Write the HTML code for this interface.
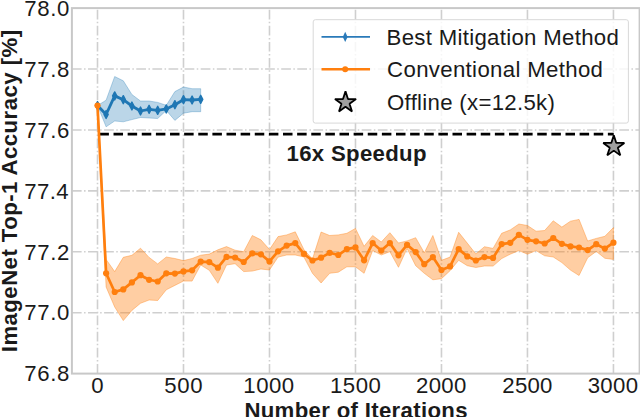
<!DOCTYPE html>
<html><head><meta charset="utf-8"><style>
html,body{margin:0;padding:0;background:#fff;overflow:hidden;}
svg{display:block;}
</style></head><body>
<svg width="640" height="417" viewBox="0 0 640 417">
<rect width="640" height="417" fill="#fff"/>
<g stroke="#cfcfcf" stroke-width="1.6" stroke-dasharray="9.72 2.43 1.52 2.43" fill="none"><line x1="71.90" y1="69.02" x2="639.60" y2="69.02"/><line x1="71.90" y1="129.93" x2="639.60" y2="129.93"/><line x1="71.90" y1="190.85" x2="639.60" y2="190.85"/><line x1="71.90" y1="251.77" x2="639.60" y2="251.77"/><line x1="71.90" y1="312.68" x2="639.60" y2="312.68"/><line x1="97.50" y1="373.60" x2="97.50" y2="8.10"/><line x1="183.49" y1="373.60" x2="183.49" y2="8.10"/><line x1="269.48" y1="373.60" x2="269.48" y2="8.10"/><line x1="355.48" y1="373.60" x2="355.48" y2="8.10"/><line x1="441.47" y1="373.60" x2="441.47" y2="8.10"/><line x1="527.46" y1="373.60" x2="527.46" y2="8.10"/><line x1="613.45" y1="373.60" x2="613.45" y2="8.10"/></g>
<polygon points="97.50,105.50 106.10,100.20 114.70,76.50 123.30,80.80 131.90,94.50 140.50,101.00 149.09,101.00 157.69,102.40 166.29,105.30 174.89,91.60 183.49,87.00 192.09,88.70 200.69,88.70 200.69,111.70 192.09,111.70 183.49,113.20 174.89,120.40 166.29,110.50 157.69,118.50 149.09,118.00 140.50,117.50 131.90,119.60 123.30,121.80 114.70,121.00 106.10,126.80 97.50,105.50" fill="#1f77b4" fill-opacity="0.3" stroke="#1f77b4" stroke-opacity="0.3" stroke-width="1"/>
<polygon points="97.50,105.60 106.10,259.40 114.70,271.60 123.30,257.30 131.90,255.30 140.50,248.20 149.09,257.40 157.69,263.90 166.29,257.00 174.89,258.50 183.49,260.60 192.09,258.50 200.69,255.20 209.29,254.10 217.89,249.80 226.49,246.60 235.09,250.20 243.69,251.70 252.29,235.50 260.88,239.80 269.48,249.50 278.08,236.60 286.68,234.90 295.28,231.80 303.88,249.50 312.48,259.00 321.08,232.00 329.68,235.50 338.28,234.90 346.88,233.30 355.48,228.40 364.07,246.30 372.67,235.50 381.27,242.00 389.87,232.70 398.47,243.00 407.07,240.90 415.67,237.70 424.27,252.80 432.87,235.50 441.47,260.30 450.07,257.10 458.67,232.30 467.26,243.10 475.86,254.00 484.46,246.70 493.06,248.40 501.66,233.30 510.26,229.90 518.86,224.00 527.46,225.50 536.06,231.20 544.66,230.50 553.26,220.80 561.86,227.10 570.45,221.20 579.05,219.40 587.65,241.00 596.25,238.40 604.85,236.30 613.45,227.60 613.45,259.40 604.85,258.30 596.25,251.40 587.65,257.80 579.05,275.50 570.45,270.10 561.86,262.60 553.26,257.00 544.66,255.80 536.06,250.60 527.46,254.20 518.86,250.60 510.26,254.20 501.66,258.60 493.06,266.10 484.46,266.00 475.86,267.50 467.26,265.70 458.67,260.30 450.07,270.70 441.47,278.70 432.87,279.80 424.27,273.30 415.67,265.70 407.07,248.50 398.47,267.30 389.87,251.70 381.27,255.00 372.67,250.60 364.07,273.30 355.48,266.80 346.88,266.80 338.28,272.20 329.68,273.30 321.08,283.00 312.48,273.30 303.88,257.00 295.28,255.00 286.68,255.00 278.08,257.10 269.48,270.00 260.88,269.00 252.29,271.10 243.69,271.60 235.09,263.70 226.49,265.00 217.89,283.30 209.29,270.30 200.69,265.00 192.09,281.10 183.49,281.10 174.89,285.40 166.29,289.80 157.69,300.50 149.09,300.00 140.50,303.30 131.90,310.40 123.30,320.60 114.70,307.00 106.10,287.00 97.50,105.60" fill="#ff7f0e" fill-opacity="0.38" stroke="#ff7f0e" stroke-opacity="0.38" stroke-width="1"/>
<line x1="99.4" y1="134.2" x2="613.75" y2="134.2" stroke="#000" stroke-width="2.8" stroke-dasharray="9.5 4.624"/>
<polyline points="97.50,105.50 106.10,114.50 114.70,95.90 123.30,99.70 131.90,106.00 140.50,111.00 149.09,109.30 157.69,110.30 166.29,108.90 174.89,104.70 183.49,99.70 192.09,100.00 200.69,99.30" fill="none" stroke="#1f77b4" stroke-width="2.8" stroke-linejoin="round"/>
<path d="M97.50 101.50L99.60 105.50L97.50 109.50L95.40 105.50ZM106.10 110.50L108.20 114.50L106.10 118.50L104.00 114.50ZM114.70 91.90L116.80 95.90L114.70 99.90L112.60 95.90ZM123.30 95.70L125.40 99.70L123.30 103.70L121.20 99.70ZM131.90 102.00L134.00 106.00L131.90 110.00L129.80 106.00ZM140.50 107.00L142.60 111.00L140.50 115.00L138.40 111.00ZM149.09 105.30L151.19 109.30L149.09 113.30L147.00 109.30ZM157.69 106.30L159.79 110.30L157.69 114.30L155.59 110.30ZM166.29 104.90L168.39 108.90L166.29 112.90L164.19 108.90ZM174.89 100.70L176.99 104.70L174.89 108.70L172.79 104.70ZM183.49 95.70L185.59 99.70L183.49 103.70L181.39 99.70ZM192.09 96.00L194.19 100.00L192.09 104.00L189.99 100.00ZM200.69 95.30L202.79 99.30L200.69 103.30L198.59 99.30Z" fill="#1f77b4" stroke="#1f77b4" stroke-width="1.4" stroke-linejoin="round"/>
<polyline points="97.50,105.60 106.10,273.30 114.70,292.00 123.30,289.40 131.90,282.40 140.50,275.20 149.09,279.80 157.69,281.50 166.29,273.30 174.89,273.60 183.49,271.40 192.09,270.30 200.69,261.70 209.29,262.10 217.89,267.70 226.49,256.90 235.09,257.50 243.69,262.00 252.29,253.40 260.88,254.30 269.48,261.40 278.08,251.30 286.68,245.60 295.28,243.10 303.88,253.90 312.48,260.50 321.08,257.70 329.68,252.80 338.28,255.00 346.88,249.10 355.48,247.40 364.07,260.30 372.67,243.10 381.27,250.60 389.87,243.10 398.47,255.30 407.07,244.80 415.67,252.10 424.27,264.20 432.87,257.10 441.47,270.00 450.07,266.40 458.67,249.10 467.26,256.40 475.86,260.50 484.46,257.10 493.06,257.90 501.66,244.10 510.26,242.80 518.86,234.80 527.46,239.80 536.06,241.30 544.66,243.50 553.26,238.00 561.86,243.80 570.45,246.40 579.05,247.50 587.65,250.10 596.25,244.20 604.85,248.60 613.45,242.70" fill="none" stroke="#ff7f0e" stroke-width="2.7" stroke-linejoin="round"/>
<g fill="#ff7f0e"><circle cx="97.50" cy="105.60" r="3.1"/><circle cx="106.10" cy="273.30" r="3.1"/><circle cx="114.70" cy="292.00" r="3.1"/><circle cx="123.30" cy="289.40" r="3.1"/><circle cx="131.90" cy="282.40" r="3.1"/><circle cx="140.50" cy="275.20" r="3.1"/><circle cx="149.09" cy="279.80" r="3.1"/><circle cx="157.69" cy="281.50" r="3.1"/><circle cx="166.29" cy="273.30" r="3.1"/><circle cx="174.89" cy="273.60" r="3.1"/><circle cx="183.49" cy="271.40" r="3.1"/><circle cx="192.09" cy="270.30" r="3.1"/><circle cx="200.69" cy="261.70" r="3.1"/><circle cx="209.29" cy="262.10" r="3.1"/><circle cx="217.89" cy="267.70" r="3.1"/><circle cx="226.49" cy="256.90" r="3.1"/><circle cx="235.09" cy="257.50" r="3.1"/><circle cx="243.69" cy="262.00" r="3.1"/><circle cx="252.29" cy="253.40" r="3.1"/><circle cx="260.88" cy="254.30" r="3.1"/><circle cx="269.48" cy="261.40" r="3.1"/><circle cx="278.08" cy="251.30" r="3.1"/><circle cx="286.68" cy="245.60" r="3.1"/><circle cx="295.28" cy="243.10" r="3.1"/><circle cx="303.88" cy="253.90" r="3.1"/><circle cx="312.48" cy="260.50" r="3.1"/><circle cx="321.08" cy="257.70" r="3.1"/><circle cx="329.68" cy="252.80" r="3.1"/><circle cx="338.28" cy="255.00" r="3.1"/><circle cx="346.88" cy="249.10" r="3.1"/><circle cx="355.48" cy="247.40" r="3.1"/><circle cx="364.07" cy="260.30" r="3.1"/><circle cx="372.67" cy="243.10" r="3.1"/><circle cx="381.27" cy="250.60" r="3.1"/><circle cx="389.87" cy="243.10" r="3.1"/><circle cx="398.47" cy="255.30" r="3.1"/><circle cx="407.07" cy="244.80" r="3.1"/><circle cx="415.67" cy="252.10" r="3.1"/><circle cx="424.27" cy="264.20" r="3.1"/><circle cx="432.87" cy="257.10" r="3.1"/><circle cx="441.47" cy="270.00" r="3.1"/><circle cx="450.07" cy="266.40" r="3.1"/><circle cx="458.67" cy="249.10" r="3.1"/><circle cx="467.26" cy="256.40" r="3.1"/><circle cx="475.86" cy="260.50" r="3.1"/><circle cx="484.46" cy="257.10" r="3.1"/><circle cx="493.06" cy="257.90" r="3.1"/><circle cx="501.66" cy="244.10" r="3.1"/><circle cx="510.26" cy="242.80" r="3.1"/><circle cx="518.86" cy="234.80" r="3.1"/><circle cx="527.46" cy="239.80" r="3.1"/><circle cx="536.06" cy="241.30" r="3.1"/><circle cx="544.66" cy="243.50" r="3.1"/><circle cx="553.26" cy="238.00" r="3.1"/><circle cx="561.86" cy="243.80" r="3.1"/><circle cx="570.45" cy="246.40" r="3.1"/><circle cx="579.05" cy="247.50" r="3.1"/><circle cx="587.65" cy="250.10" r="3.1"/><circle cx="596.25" cy="244.20" r="3.1"/><circle cx="604.85" cy="248.60" r="3.1"/><circle cx="613.45" cy="242.70" r="3.1"/></g>
<polygon points="613.80,135.30 616.29,142.97 624.36,142.97 617.83,147.71 620.32,155.38 613.80,150.64 607.28,155.38 609.77,147.71 603.24,142.97 611.31,142.97" fill="#a0a0a0" stroke="#000" stroke-width="1.8" stroke-linejoin="bevel"/>
<rect x="71.90" y="8.10" width="567.70" height="365.50" fill="none" stroke="#c8c8c8" stroke-width="2"/>
<rect x="313.2" y="19.7" width="315.2" height="103.4" rx="2.2" ry="2.2" fill="#fff" fill-opacity="0.8" stroke="#d8d8d8" stroke-width="1"/>
<line x1="321.5" y1="36.9" x2="370" y2="36.9" stroke="#2a7ab9" stroke-width="1.8"/>
<path d="M345.2 31.7L347.6 36.9L345.2 42.1L342.8 36.9Z" fill="#2a7ab9"/>
<line x1="321.5" y1="69.3" x2="370" y2="69.3" stroke="#ff7f0e" stroke-width="2.6"/>
<circle cx="345.2" cy="69.3" r="3" fill="#ff7f0e"/>
<polygon points="345.50,91.40 347.99,99.07 356.06,99.07 349.53,103.81 352.02,111.48 345.50,106.74 338.98,111.48 341.47,103.81 334.94,99.07 343.01,99.07" fill="#a0a0a0" stroke="#000" stroke-width="1.8" stroke-linejoin="bevel"/>
<text id="legend1" x="386.600" y="44.750" font-family='"Liberation Sans", sans-serif' font-size="22.2" font-weight="normal" letter-spacing="0.309" fill="#1a1a1a">Best Mitigation Method</text>
<text id="legend2" x="387.100" y="77.200" font-family='"Liberation Sans", sans-serif' font-size="22.2" font-weight="normal" letter-spacing="0.340" fill="#1a1a1a">Conventional Method</text>
<text id="legend3" x="387.000" y="110.100" font-family='"Liberation Sans", sans-serif' font-size="22.2" font-weight="normal" letter-spacing="0.306" fill="#1a1a1a">Offline (x=12.5k)</text>
<text id="speedup" x="286.500" y="160.600" font-family='"Liberation Sans", sans-serif' font-size="22.2" font-weight="bold" letter-spacing="0.308" fill="#1a1a1a">16x Speedup</text>
<text id="yt78.0" x="24.200" y="15.900" font-family='"Liberation Sans", sans-serif' font-size="22.2" font-weight="normal" letter-spacing="0.653" fill="#1a1a1a">78.0</text>
<text id="yt77.8" x="24.200" y="76.817" font-family='"Liberation Sans", sans-serif' font-size="22.2" font-weight="normal" letter-spacing="0.654" fill="#1a1a1a">77.8</text>
<text id="yt77.6" x="24.200" y="137.733" font-family='"Liberation Sans", sans-serif' font-size="22.2" font-weight="normal" letter-spacing="0.654" fill="#1a1a1a">77.6</text>
<text id="yt77.4" x="24.200" y="198.650" font-family='"Liberation Sans", sans-serif' font-size="22.2" font-weight="normal" letter-spacing="0.421" fill="#1a1a1a">77.4</text>
<text id="yt77.2" x="24.200" y="259.567" font-family='"Liberation Sans", sans-serif' font-size="22.2" font-weight="normal" letter-spacing="0.654" fill="#1a1a1a">77.2</text>
<text id="yt77.0" x="24.200" y="320.483" font-family='"Liberation Sans", sans-serif' font-size="22.2" font-weight="normal" letter-spacing="0.653" fill="#1a1a1a">77.0</text>
<text id="yt76.8" x="24.200" y="381.400" font-family='"Liberation Sans", sans-serif' font-size="22.2" font-weight="normal" letter-spacing="0.654" fill="#1a1a1a">76.8</text>
<text id="xt0" x="91.250" y="392.700" font-family='"Liberation Sans", sans-serif' font-size="22.2" font-weight="normal" letter-spacing="0.000" fill="#1a1a1a">0</text>
<text id="xt500" x="164.228" y="392.700" font-family='"Liberation Sans", sans-serif' font-size="22.2" font-weight="normal" letter-spacing="0.630" fill="#1a1a1a">500</text>
<text id="xt1000" x="243.347" y="392.700" font-family='"Liberation Sans", sans-serif' font-size="22.2" font-weight="normal" letter-spacing="0.467" fill="#1a1a1a">1000</text>
<text id="xt1500" x="330.025" y="392.700" font-family='"Liberation Sans", sans-serif' font-size="22.2" font-weight="normal" letter-spacing="0.467" fill="#1a1a1a">1500</text>
<text id="xt2000" x="416.103" y="392.700" font-family='"Liberation Sans", sans-serif' font-size="22.2" font-weight="normal" letter-spacing="0.279" fill="#1a1a1a">2000</text>
<text id="xt2500" x="502.372" y="392.700" font-family='"Liberation Sans", sans-serif' font-size="22.2" font-weight="normal" letter-spacing="0.234" fill="#1a1a1a">2500</text>
<text id="xt3000" x="587.700" y="392.700" font-family='"Liberation Sans", sans-serif' font-size="22.2" font-weight="normal" letter-spacing="0.326" fill="#1a1a1a">3000</text>
<text id="xlabel" x="244.400" y="418.300" font-family='"Liberation Sans", sans-serif' font-size="22.2" font-weight="bold" letter-spacing="0.326" fill="#1a1a1a">Number of Iterations</text>
<text id="ylabel" transform="translate(17.050,352.200) rotate(-90)" font-family='"Liberation Sans", sans-serif' font-size="22.2" font-weight="bold" letter-spacing="0.444" fill="#1a1a1a">ImageNet Top-1 Accuracy [%]</text>
</svg>
</body></html>
